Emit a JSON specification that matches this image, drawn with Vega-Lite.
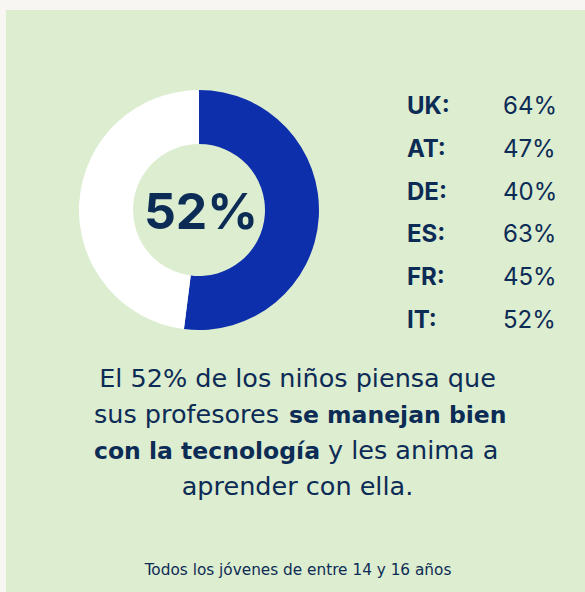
{
  "$schema": "https://vega.github.io/schema/vega-lite/v6.json",
  "autosize": {"type": "fit", "contains": "padding"},
  "width": 585,
  "height": 592,
  "padding": {"top": 10, "left": 6, "right": 0, "bottom": 0},
  "background": "#f7f6f2",
  "config": {
    "view": {"fill": "#dcedd0", "stroke": null},
    "text": {"font": "Inter", "color": "#0c2b55"}
  },
  "resolve": {"scale": {"y": "independent", "color": "independent"}},
  "layer": [
    {
      "data": {"values": [
        {"respuesta": "Sí", "pct": 0.52},
        {"respuesta": "No", "pct": 0.48}
      ]},
      "mark": {"type": "arc", "outerRadius": 120, "innerRadius": 66},
      "encoding": {
        "x": {"datum": 193, "type": "quantitative", "scale": {"domain": [0, 579], "nice": false, "zero": false}, "axis": null},
        "y": {"datum": 200, "type": "quantitative", "scale": {"domain": [0, 582], "reverse": true, "nice": false, "zero": false}, "axis": null},
        "theta": {"field": "pct", "type": "quantitative", "stack": true},
        "order": {"field": "respuesta", "sort": "descending"},
        "color": {"field": "respuesta", "type": "nominal", "scale": {"domain": ["Sí", "No"], "range": ["#0e2fab", "#ffffff"]}, "legend": null}
      }
    },
    {
      "data": {"values": [{"respuesta": "Sí", "pct": 0.52}]},
      "mark": {"type": "text", "fontSize": 50, "fontWeight": "bold", "align": "center", "baseline": "alphabetic"},
      "encoding": {
        "x": {"datum": 195, "type": "quantitative", "axis": null},
        "y": {"datum": 219, "type": "quantitative", "scale": {"domain": [0, 582], "reverse": true, "nice": false, "zero": false}, "axis": null},
        "text": {"field": "pct", "type": "quantitative", "format": ".0%"}
      }
    },
    {
      "data": {"name": "paises", "values": [
        {"pais": "UK:", "pct": 0.64},
        {"pais": "AT:", "pct": 0.47},
        {"pais": "DE:", "pct": 0.40},
        {"pais": "ES:", "pct": 0.63},
        {"pais": "FR:", "pct": 0.45},
        {"pais": "IT:", "pct": 0.52}
      ]},
      "layer": [
        {
          "mark": {"type": "text", "fontSize": 24, "fontWeight": "bold", "align": "left", "baseline": "alphabetic"},
          "encoding": {
            "x": {"datum": 401, "type": "quantitative", "axis": null},
            "y": {"field": "pais", "type": "nominal", "sort": null, "scale": {"type": "point", "padding": 0, "range": [104, 318]}, "axis": null},
            "text": {"field": "pais", "type": "nominal"}
          }
        },
        {
          "mark": {"type": "text", "fontSize": 24, "align": "left", "baseline": "alphabetic"},
          "encoding": {
            "x": {"datum": 497, "type": "quantitative", "axis": null},
            "y": {"field": "pais", "type": "nominal", "sort": null, "scale": {"type": "point", "padding": 0, "range": [104, 318]}, "axis": null},
            "text": {"field": "pct", "type": "quantitative", "format": ".0%"}
          }
        }
      ]
    },
    {
      "data": {"values": [
        {"linea": 1, "texto": "El 52% de los niños piensa que"},
        {"linea": 4, "texto": "aprender con ella."}
      ]},
      "mark": {"type": "text", "font": "DejaVu Sans", "fontSize": 25.5, "align": "center", "baseline": "alphabetic"},
      "encoding": {
        "x": {"datum": 291.5, "type": "quantitative", "axis": null},
        "y": {"field": "linea", "type": "ordinal", "scale": {"type": "point", "padding": 0, "domain": [1, 2, 3, 4], "range": [377, 485]}, "axis": null},
        "text": {"field": "texto", "type": "nominal"}
      }
    },
    {
      "data": {"values": [{"linea": 2, "texto": "sus profesores"}]},
      "mark": {"type": "text", "font": "DejaVu Sans", "fontSize": 25.5, "align": "right", "baseline": "alphabetic"},
      "encoding": {
        "x": {"datum": 273, "type": "quantitative", "axis": null},
        "y": {"field": "linea", "type": "ordinal", "scale": {"type": "point", "padding": 0, "domain": [1, 2, 3, 4], "range": [377, 485]}, "axis": null},
        "text": {"field": "texto", "type": "nominal"}
      }
    },
    {
      "data": {"values": [{"linea": 2, "texto": "se manejan bien"}]},
      "mark": {"type": "text", "font": "DejaVu Sans", "fontSize": 23.5, "fontWeight": "bold", "align": "left", "baseline": "alphabetic"},
      "encoding": {
        "x": {"datum": 283, "type": "quantitative", "axis": null},
        "y": {"field": "linea", "type": "ordinal", "scale": {"type": "point", "padding": 0, "domain": [1, 2, 3, 4], "range": [377, 485]}, "axis": null},
        "text": {"field": "texto", "type": "nominal"}
      }
    },
    {
      "data": {"values": [{"linea": 3, "texto": "con la tecnología"}]},
      "mark": {"type": "text", "font": "DejaVu Sans", "fontSize": 23.5, "fontWeight": "bold", "align": "right", "baseline": "alphabetic"},
      "encoding": {
        "x": {"datum": 314, "type": "quantitative", "axis": null},
        "y": {"field": "linea", "type": "ordinal", "scale": {"type": "point", "padding": 0, "domain": [1, 2, 3, 4], "range": [377, 485]}, "axis": null},
        "text": {"field": "texto", "type": "nominal"}
      }
    },
    {
      "data": {"values": [{"linea": 3, "texto": "y les anima a"}]},
      "mark": {"type": "text", "font": "DejaVu Sans", "fontSize": 25.5, "align": "left", "baseline": "alphabetic"},
      "encoding": {
        "x": {"datum": 322, "type": "quantitative", "axis": null},
        "y": {"field": "linea", "type": "ordinal", "scale": {"type": "point", "padding": 0, "domain": [1, 2, 3, 4], "range": [377, 485]}, "axis": null},
        "text": {"field": "texto", "type": "nominal"}
      }
    },
    {
      "data": {"values": [{"nota": "Todos los jóvenes de entre 14 y 16 años"}]},
      "mark": {"type": "text", "font": "DejaVu Sans", "fontSize": 15.3, "align": "center", "baseline": "alphabetic"},
      "encoding": {
        "x": {"datum": 292, "type": "quantitative", "axis": null},
        "y": {"datum": 565, "type": "quantitative", "scale": {"domain": [0, 582], "reverse": true, "nice": false, "zero": false}, "axis": null},
        "text": {"field": "nota", "type": "nominal"}
      }
    }
  ]
}
